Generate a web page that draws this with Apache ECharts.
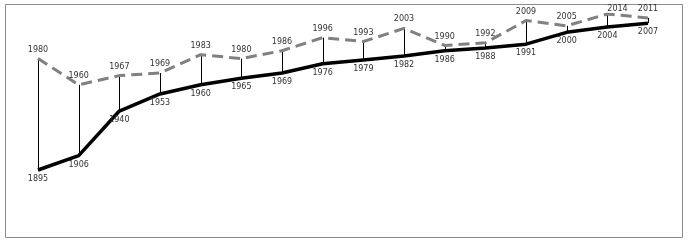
<!DOCTYPE html>
<html><head><meta charset="utf-8">
<script src="https://cdn.jsdelivr.net/npm/echarts@6/dist/echarts.min.js"></script>
<style>html,body{margin:0;padding:0;background:#fff}#c{width:688px;height:242px}</style>
</head><body><div id="c"></div>
<script>
const categories = ['1','2','3','4','5','6','7','8','9','10','11','12','13','14','15','16'];
const lowerValues = [1895,1906,1940,1953,1960,1965,1969,1976,1979,1982,1986,1988,1991,2000,2004,2007];
const upperValues = [1980,1960,1967,1969,1983,1980,1986,1996,1993,2003,1990,1992,2009,2005,2014,2011];

const chart = echarts.init(document.getElementById('c'));
const labelFont = {fontFamily:'DejaVu Sans', fontSize:8, color:'#333', opacity:1};
chart.setOption({
  animation:false,
  graphic:[{type:'rect', shape:{x:5.5,y:4.5,width:677,height:233}, style:{fill:'none', stroke:'#8c8c8c', lineWidth:1}, z:-1}],
  grid:{left:38, right:40, top:14, bottom:13},
  xAxis:{type:'category', data:categories, boundaryGap:false, show:false},
  yAxis:{type:'value', min:1850, max:2014, show:false, splitLine:{show:false}},
  series:[
    {type:'custom', z:1, silent:true,
     data: categories.map((c,i)=>[i, lowerValues[i], upperValues[i]]),
     renderItem:(params, api)=>{
       const p1 = api.coord([api.value(0), api.value(1)]);
       const p2 = api.coord([api.value(0), api.value(2)]);
       return {type:'line', shape:{x1:Math.round(p1[0])+0.5,y1:p1[1],x2:Math.round(p2[0])+0.5,y2:p2[1]}, style:{stroke:'#000', lineWidth:1}};
     }},
    {type:'line', z:3, data:upperValues, symbol:'circle', symbolSize:2, showSymbol:true,
     itemStyle:{color:'rgba(0,0,0,0)'},
     lineStyle:{color:'#808080', width:3, type:[11,6]},
     label:{show:true, position:'top', distance:4, ...labelFont},
     labelLayout:(p)=> p.labelRect.y < 4 ? {y: 5} : {}},
    {type:'line', z:3, data:lowerValues, symbol:'circle', symbolSize:2, showSymbol:true,
     itemStyle:{color:'rgba(0,0,0,0)'},
     lineStyle:{color:'#000', width:3.5},
     label:{show:true, position:'bottom', distance:4, ...labelFont}}
  ]
});
</script></body></html>
